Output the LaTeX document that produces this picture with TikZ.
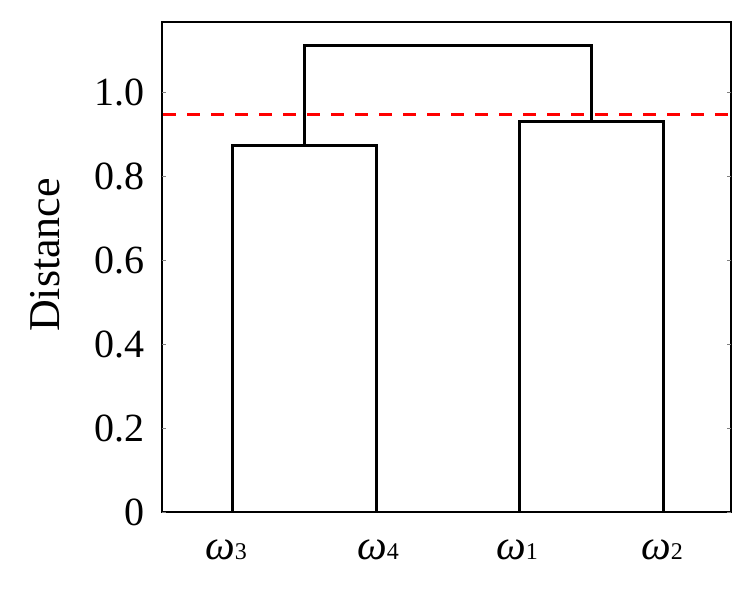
\documentclass[tikz,border=0pt]{standalone}
\usepackage{fontspec}
\setmainfont{Liberation Serif}
\begin{document}
\begin{tikzpicture}[x=1pt,y=1pt,
  tick/.style={font=\fontsize{40}{44}\selectfont, anchor=east, inner sep=0pt},
  leaf/.style={font=\fontsize{42}{46}\selectfont, inner sep=0pt},
  dendro/.style={line width=3pt, black, line join=miter},
  frame/.style={line width=2pt, black},
  smalltick/.style={line width=0.8pt, gray}]
\useasboundingbox (0,0) rectangle (748,597);
% frame
\coordinate (fl) at (162,85);
\coordinate (fr) at (731,575);
\draw[frame] (fl) rectangle (fr);
% ticks and labels
\foreach \v/\t in {0/0, 1/0.2, 2/0.4, 3/0.6, 4/0.8, 5/1.0}{
  \pgfmathsetmacro{\yy}{85+84*\v}
  \node[tick] (t\v) at (145,\yy) {\t};
  \draw[smalltick] (162,\yy) -- (166,\yy);
  \draw[smalltick] (731,\yy) -- (727,\yy);
}
% axis label
\node[font=\fontsize{44}{48}\selectfont, rotate=90, inner sep=0pt] (ylab) at (45,342) {Distance};
% dendrogram coordinates
\coordinate (l3) at (232,85);
\coordinate (l4) at (376,85);
\coordinate (l1) at (519,85);
\coordinate (l2) at (663,85);
\coordinate (m34) at (304,451);
\coordinate (m12) at (591,475);
\coordinate (top) at (0,551);
% clusters
\draw[dendro] (l3) |- (m34) -| (l4);
\draw[dendro] (l1) |- (m12) -| (l2);
\draw[dendro] (m34) |- (top -| m34) -- (top -| m12) -- (m12);
% red cut line
\draw[red, line width=3pt, dash pattern=on 13pt off 11pt] (163,482) -- (730,482);
% leaf labels
\node[leaf] (w3) at (226,47) {\textit{ω}{\fontsize{24}{26}\selectfont 3}};
\node[leaf] (w4) at (378,47) {\textit{ω}{\fontsize{24}{26}\selectfont 4}};
\node[leaf] (w1) at (517,47) {\textit{ω}{\fontsize{24}{26}\selectfont 1}};
\node[leaf] (w2) at (662,47) {\textit{ω}{\fontsize{24}{26}\selectfont 2}};
\end{tikzpicture}
\end{document}
